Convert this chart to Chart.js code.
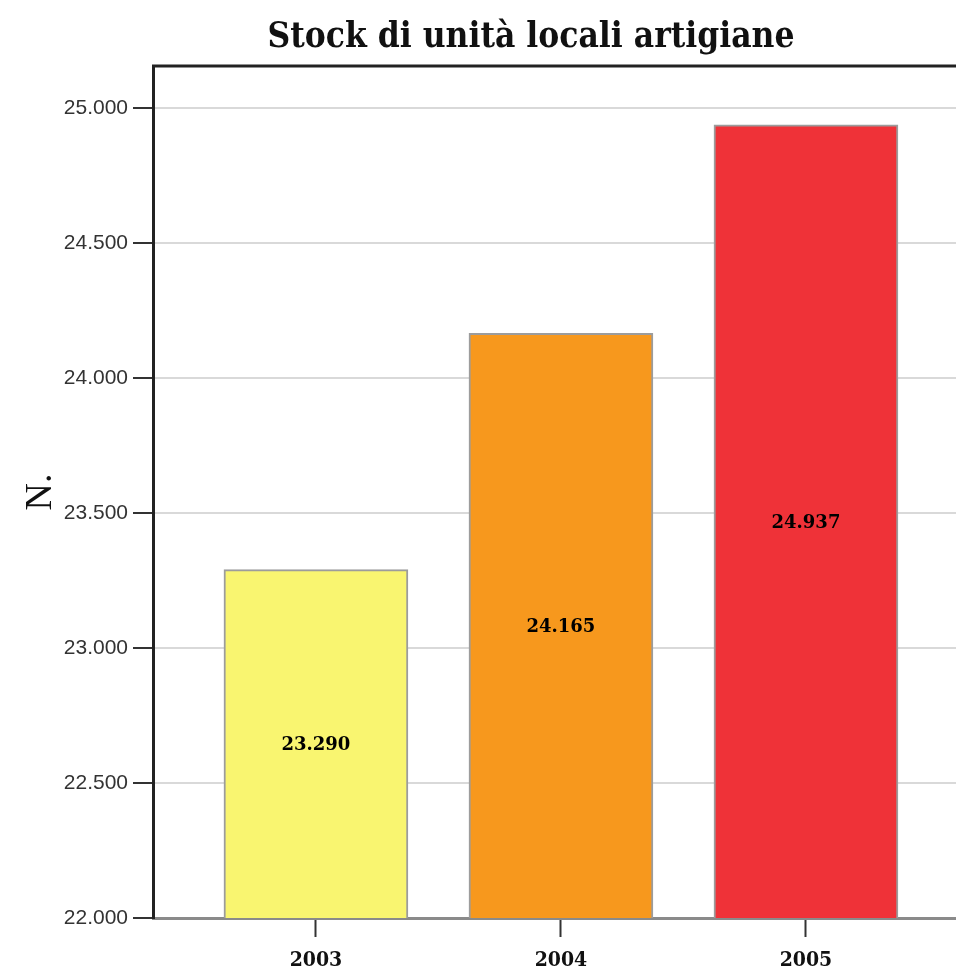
<!DOCTYPE html>
<html>
<head>
<meta charset="utf-8">
<script src="https://cdn.jsdelivr.net/npm/chart.js@4"></script>
<style>
  html, body { margin: 0; padding: 0; background: #fff; overflow: hidden; }
  #wrap { width: 1062px; height: 976px; }
</style>
</head>
<body>
<div id="wrap"><canvas id="stockChart" width="1062" height="976"></canvas></div>
<script>
// Data
const anni = ['2003', '2004', '2005'];
const unitaLocali = [23290, 24165, 24937];
const coloriBarre = ['#f9f570', '#f7981d', '#ef3238'];
const tickY = [22000, 22500, 23000, 23500, 24000, 24500, 25000];

function fmtNum(v) {
    return String(Math.round(v)).replace(/\B(?=(\d{3})+(?!\d))/g, '.');
}

// value labels in the middle of each bar
const valueLabels = {
    id: 'valueLabels',
    afterDraw(chart) {
        const c = chart.ctx;
        const yScale = chart.scales.y;
        const meta = chart.getDatasetMeta(0);
        const basePx = yScale.getPixelForValue(yScale.min);
        c.save();
        c.font = "bold 18px 'DejaVu Serif'";
        c.fillStyle = '#000';
        c.textAlign = 'center';
        c.textBaseline = 'middle';
        meta.data.forEach((bar, i) => {
            const topPx = yScale.getPixelForValue(unitaLocali[i]);
            c.fillText(fmtNum(unitaLocali[i]), bar.x, (topPx + basePx) / 2 + 2);
        });
        c.restore();
    }
};

// black frame line on top of plot area
const topBorder = {
    id: 'topBorder',
    afterDraw(chart) {
        const a = chart.chartArea;
        const c = chart.ctx;
        c.save();
        c.strokeStyle = '#222';
        c.lineWidth = 3;
        c.beginPath();
        c.moveTo(a.left - 1, a.top);
        c.lineTo(a.right, a.top);
        c.stroke();
        c.restore();
    }
};

new Chart(document.getElementById('stockChart'), {
    type: 'bar',
    data: {
        datasets: [{
            data: anni.map((a, i) => ({ x: Number(a), y: unitaLocali[i] })),
            backgroundColor: coloriBarre,
            borderColor: '#9c9c9c',
            borderWidth: 2,
            borderSkipped: false,
            barThickness: 184
        }]
    },
    options: {
        responsive: false,
        animation: false,
        layout: { padding: 0 },
        plugins: {
            legend: { display: false },
            tooltip: { enabled: false },
            title: {
                display: true,
                text: 'Stock di unità locali artigiane',
                color: '#111',
                font: { family: "'DejaVu Serif Condensed'", size: 35, weight: 'bold' },
                padding: { top: 17, bottom: 7 }
            }
        },
        scales: {
            x: {
                type: 'linear',
                offset: false,
                min: 2002.335,
                max: 2006.045,
                afterBuildTicks: (s) => { s.ticks = anni.map(a => ({ value: Number(a) })); },
                afterFit: (s) => { s.height = 58; },
                border: { color: '#8a8a8a', width: 3 },
                grid: { offset: false, drawOnChartArea: false, tickLength: 19, tickColor: '#333', tickWidth: 2 },
                ticks: {
                    padding: 11,
                    color: '#111',
                    font: { family: "'DejaVu Serif Condensed'", size: 21, weight: 'bold' },
                    callback: (v) => String(v)
                }
            },
            y: {
                min: 22000,
                max: 25155,
                afterBuildTicks: (s) => { s.ticks = tickY.map(v => ({ value: v })); },
                afterFit: (s) => { s.width = 153; },
                border: { color: '#222', width: 3 },
                grid: { color: '#d9d9d9', lineWidth: 2, tickLength: 20, tickColor: '#333', tickWidth: 2 },
                ticks: {
                    padding: 5,
                    color: '#333',
                    font: { family: "'Liberation Sans'", size: 21 },
                    callback: (v) => fmtNum(v)
                },
                title: {
                    display: true,
                    text: 'N.',
                    color: '#111',
                    font: { family: "'Liberation Serif'", size: 38 },
                    padding: { top: 18, bottom: 0 }
                }
            }
        }
    },
    plugins: [valueLabels, topBorder]
});
</script>
</body>
</html>
